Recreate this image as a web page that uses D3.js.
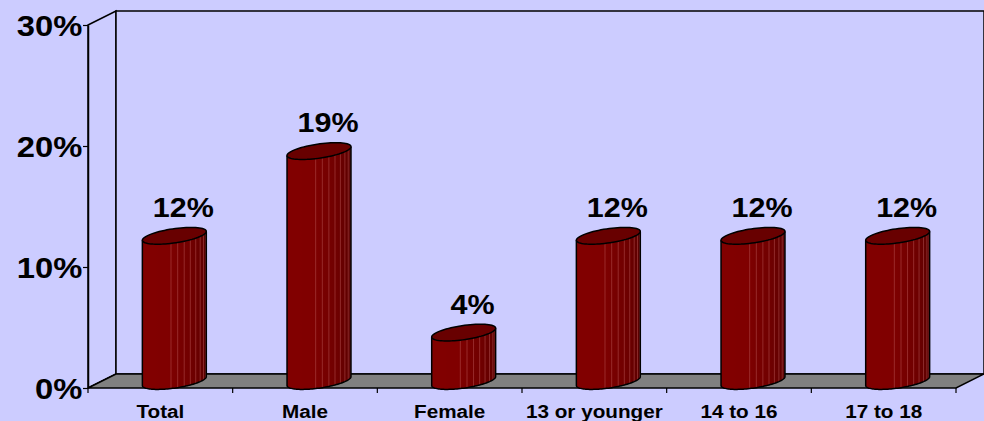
<!DOCTYPE html>
<html>
<head>
<meta charset="utf-8">
<script src="https://cdn.jsdelivr.net/npm/d3@7"></script>
<style>
  body { margin: 0; background: #ccccff; }
  svg text { font-family: Arial, 'Liberation Sans', sans-serif; font-weight: bold; fill: #000; }
</style>
</head>
<body>
<div id="chart"></div>
<script>

const categories = ['Total', 'Male', 'Female', '13 or younger', '14 to 16', '17 to 18'];
const values = [0.12, 0.19, 0.04, 0.12, 0.12, 0.12];
const yTicks = [0, 0.1, 0.2, 0.3];

const W = 984,
      H = 421;

// front plane of the 3d box
const FRONT = { left: 88, right: 956, top: 25, bottom: 388 };
// oblique depth offset
const DX = 28,
      DY = -14;

const svg = d3.select('#chart').append('svg')
  .attr('width', W)
  .attr('height', H);

svg.append('rect')
  .attr('width', W)
  .attr('height', H)
  .attr('fill', '#ccccff');

const x = d3.scaleBand()
  .domain(categories)
  .range([FRONT.left, FRONT.right]);

const y = d3.scaleLinear()
  .domain([0, 0.3])
  .range([FRONT.bottom, FRONT.top]);

const y0 = y(0),
      yMax = y(0.3),
      xl = x.range()[0],
      xr = x.range()[1];

// side wall
svg.append('path')
  .attr('d', `M${xl},${yMax}L${xl + DX},${yMax + DY}L${xl + DX},${y0 + DY}L${xl},${y0}Z`)
  .attr('fill', '#ccccff')
  .attr('stroke', '#000')
  .attr('stroke-width', 1.5);

// back wall
svg.append('rect')
  .attr('x', xl + DX)
  .attr('y', yMax + DY)
  .attr('width', xr - xl)
  .attr('height', y0 - yMax)
  .attr('fill', '#ccccff')
  .attr('stroke', '#000')
  .attr('stroke-width', 1.5);

// floor
svg.append('path')
  .attr('d', `M${xl},${y0}L${xr},${y0}L${xr + DX},${y0 + DY}L${xl + DX},${y0 + DY}Z`)
  .attr('fill', '#808080')
  .attr('stroke', '#000')
  .attr('stroke-width', 1.5);

// cylinder bars
const A = 27.2,        // half width across
      BX = 16.8,       // depth radius, x part
      BY = 8.4,        // depth radius, y part
      R = Math.hypot(A, BX),
      t0 = Math.atan2(BX, A),
      STEP = Math.PI / 15;

const shade = d3.scaleLinear()
  .domain([0, 1.0, 1.8, Math.PI])
  .range(['#520000', '#700000', '#800000', '#820000'])
  .interpolate(d3.interpolateRgb);

// horizontal shading across the body, from left silhouette to right one
const grad = svg.append('defs').append('linearGradient')
  .attr('id', 'body')
  .attr('x1', 0).attr('x2', 1).attr('y1', 0).attr('y2', 0);

d3.range(0, 31).forEach((j) => {
  const phi = Math.PI - j * Math.PI / 30;
  grad.append('stop')
    .attr('offset', (1 + Math.cos(phi)) / 2)
    .attr('stop-color', shade(phi));
});

const pt = (cx, yc, t) => [cx + A * Math.cos(t) + BX * Math.sin(t), yc - BY * Math.sin(t)];

const bars = svg.append('g');

categories.forEach((c, i) => {

  const cx = x(c) + x.bandwidth() / 2 + DX / 2;
  const yTop = y(values[i]) + DY / 2;
  const yBot = y0 + DY / 2;
  const g = bars.append('g');

  const arc = d3.range(0, 61).map((j) => pt(cx, yBot, t0 - j * Math.PI / 60));
  const left = pt(cx, yTop, t0 - Math.PI),
        right = pt(cx, yTop, t0);
  const side = `M${right}L${arc[0]}` + arc.slice(1).map((p) => `L${p}`).join('') + `L${left}`;

  g.append('path')
    .attr('d', side + 'Z')
    .attr('fill', 'url(#body)');

  // light facet edges
  for (let k = 1; k < 9; k++) {
    const t = t0 - k * STEP;
    const a = pt(cx, yTop, t), b = pt(cx, yBot, t);
    g.append('line')
      .attr('x1', a[0]).attr('y1', a[1])
      .attr('x2', b[0]).attr('y2', b[1])
      .attr('stroke', '#c06060')
      .attr('stroke-opacity', 0.55)
      .attr('stroke-width', 0.8);
  }

  g.append('path')
    .attr('d', side)
    .attr('fill', 'none')
    .attr('stroke', '#000')
    .attr('stroke-width', 1.5);

  // top ellipse
  const top = d3.range(0, 72).map((j) => pt(cx, yTop, j * Math.PI * 2 / 72));
  g.append('path')
    .attr('d', 'M' + top.join('L') + 'Z')
    .attr('fill', '#680000')
    .attr('stroke', '#000')
    .attr('stroke-width', 1.5);

});

// value labels
svg.append('g')
  .selectAll('text')
  .data(values)
  .enter().append('text')
    .attr('transform', (d, i) => `translate(${x(categories[i]) + x.bandwidth() / 2 + 23}, ${y(d) - 26}) scale(1.13, 1)`)
    .attr('text-anchor', 'middle')
    .style('font-size', '27px')
    .text((d) => d3.format('.0%')(d));

// y axis
const yAxis = svg.append('g')
  .attr('transform', `translate(${xl}, 0)`)
  .call(d3.axisLeft(y)
    .tickValues(yTicks)
    .tickFormat(d3.format('.0%'))
    .tickSize(5)
    .tickSizeOuter(0)
    .tickPadding(0));

yAxis.select('.domain').attr('stroke', '#000').attr('stroke-width', 1.5);
yAxis.selectAll('.tick line').attr('stroke', '#000').attr('stroke-width', 1.2);
yAxis.selectAll('.tick text')
  .attr('transform', 'scale(1.13, 1)')
  .attr('dy', '0.36em')
  .attr('fill', '#000')
  .style('font-size', '29px')
  .style('font-family', "Arial, 'Liberation Sans', sans-serif")
  .style('font-weight', 'bold');

// category ticks at band edges
const edges = categories.map((c) => x(c)).concat([xr]);
svg.append('g')
  .selectAll('line')
  .data(edges)
  .enter().append('line')
    .attr('x1', (d) => d).attr('x2', (d) => d)
    .attr('y1', y0).attr('y2', y0 + 5)
    .attr('stroke', '#000')
    .attr('stroke-width', 1.2);

// category labels
svg.append('g')
  .selectAll('text')
  .data(categories)
  .enter().append('text')
    .attr('transform', (d) => `translate(${x(d) + x.bandwidth() / 2}, 418) scale(1.09, 1)`)
    .attr('text-anchor', 'middle')
    .style('font-size', '19px')
    .text((d) => d);

</script>
</body>
</html>
